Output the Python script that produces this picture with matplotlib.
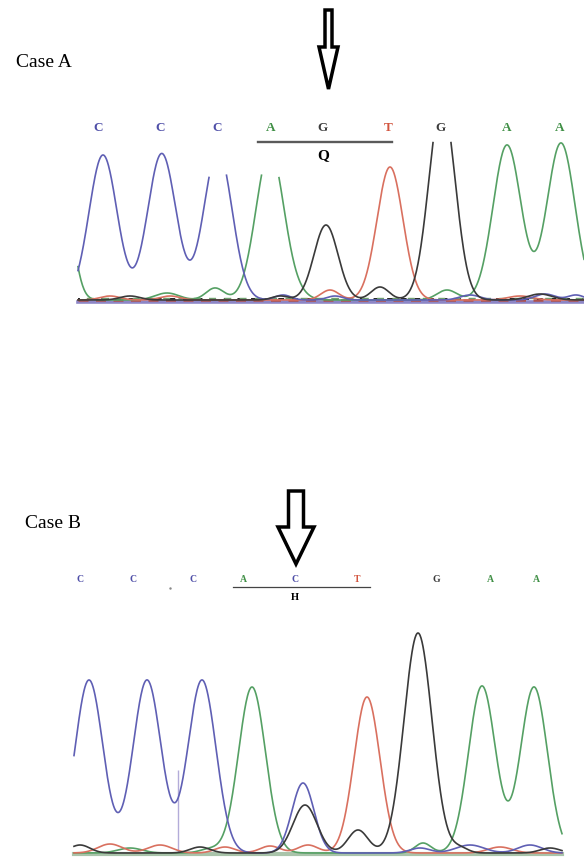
import numpy as np
import matplotlib
matplotlib.use("Agg")
import matplotlib.pyplot as plt
from matplotlib.patches import Polygon

W, H = 584, 857
BLUE, GREEN, RED, BLACK = "#5f5fb4", "#55a064", "#d9705f", "#3a3a3a"
LETTER_COL = {"C": "#4f4fa8", "A": "#3f8f45", "G": "#3c3c3c", "T": "#d2553f"}
SERIF = "Liberation Serif"

# ---- Case A: peak tables (scan position, height, width) per dye channel
A_BLUE_POS = [103, 162, 218, 150, 283, 335, 470, 545, 576]
A_BLUE_H   = [145, 145, 150, 3, 5, 4, 5, 6, 5]
A_BLUE_W   = [14, 14, 14, 10, 8, 8, 10, 10, 8]
A_GREEN_POS = [62, 167, 215, 270, 447, 507, 561, 300]
A_GREEN_H   = [120, 7, 12, 150, 10, 155, 157, 3]
A_GREEN_W   = [10, 12, 9, 14, 10, 14, 14, 10]
A_BLACK_POS = [130, 280, 326, 380, 442, 540]
A_BLACK_H   = [4, 4, 75, 13, 200, 6]
A_BLACK_W   = [10, 8, 12, 9, 13, 12]
A_RED_POS = [110, 170, 330, 390, 520]
A_RED_H   = [4, 4, 10, 133, 4]
A_RED_W   = [10, 10, 9, 13, 12]
A_RANGE = (78, 584)
# parts of the trace that are blanked out in the figure: (x0, x1, max value shown)
A_CLIP = [(200, 290, 125), (425, 460, 160)]
A_BASES = list("CCCAGTGAA")
A_BASE_X = [98, 160, 217, 271, 323, 388, 440, 507, 560]

# ---- Case B
B_BLUE_POS = [89, 147, 202, 303, 420, 470, 530]
B_BLUE_H   = [173, 173, 173, 70, 5, 8, 8]
B_BLUE_W   = [14, 14, 14, 11, 10, 14, 12]
B_GREEN_POS = [130, 210, 252, 423, 482, 534]
B_GREEN_H   = [5, 4, 166, 10, 167, 166]
B_GREEN_W   = [12, 10, 13.5, 8, 13.5, 13.5]
B_BLACK_POS = [80, 200, 305, 358, 418, 460, 550]
B_BLACK_H   = [8, 6, 48, 23, 220, 5, 5]
B_BLACK_W   = [10, 10, 12, 10, 14, 8, 10]
B_RED_POS = [110, 160, 225, 270, 308, 367, 500]
B_RED_H   = [9, 8, 6, 7, 8, 156, 6]
B_RED_W   = [12, 12, 10, 10, 10, 13, 12]
B_RANGE = (74, 562)
B_MARK_X, B_MARK_TOP = 178, 83
B_BASES = list("CCCACTGAA")
B_BASE_X = [80, 133, 193, 243, 295, 357, 436, 490, 536]


def trace(x, pos, h, w):
    y = np.zeros_like(x)
    for p, a, s in zip(pos, h, w):
        y += a * np.exp(-(x - p) ** 2 / (2 * s ** 2))
    return y


def clip(x, y, regions):
    y = y.copy()
    for x0, x1, lev in regions:
        y[(x >= x0) & (x <= x1) & (y > lev)] = np.nan
    return y


def arrow(ax, cx, top, neck, tip, sw, hw):
    pts = [(cx - sw / 2, top), (cx + sw / 2, top), (cx + sw / 2, neck),
           (cx + hw / 2, neck), (cx, tip), (cx - hw / 2, neck), (cx - sw / 2, neck)]
    ax.add_patch(Polygon(pts, closed=True, facecolor="white", edgecolor="black",
                         lw=2.5, joinstyle="miter"))


fig = plt.figure(figsize=(W / 100, H / 100), dpi=100)
ov = fig.add_axes([0, 0, 1, 1])
ov.set_xlim(0, W); ov.set_ylim(H, 0); ov.axis("off")

# Case A traces
axA = fig.add_axes([0, (H - 306) / H, 1, 206 / H])
axA.set_xlim(0, W); axA.set_ylim(-6, 200); axA.axis("off")
xa = np.arange(A_RANGE[0], A_RANGE[1] + 0.5, 0.5)
axA.plot(xa, np.full_like(xa, -1.5), color="#8d86c6", lw=2.6)
axA.plot(xa, np.full_like(xa, 0.5), color="#b0504a", lw=1.8, ls=(0, (4, 3)))
axA.plot(xa, np.full_like(xa, 1.5), color="#222222", lw=1.4, ls=(2, (3, 4)))
axA.plot(xa, np.full_like(xa, 2.5), color="#6f9f6f", lw=1.0, ls=(5, (5, 6)))
for pos, h, w, col in [(A_GREEN_POS, A_GREEN_H, A_GREEN_W, GREEN),
                       (A_RED_POS, A_RED_H, A_RED_W, RED),
                       (A_BLUE_POS, A_BLUE_H, A_BLUE_W, BLUE),
                       (A_BLACK_POS, A_BLACK_H, A_BLACK_W, BLACK)]:
    axA.plot(xa, clip(xa, trace(xa, pos, h, w), A_CLIP), color=col, lw=1.2)

# Case B traces
axB = fig.add_axes([0, 0, 1, 257 / H])
axB.set_xlim(0, W); axB.set_ylim(-4, 253); axB.axis("off")
xb = np.arange(B_RANGE[0], B_RANGE[1] + 0.5, 0.5)
axB.plot(xb, np.full_like(xb, -1.2), color="#a9c4aa", lw=3)
axB.vlines(B_MARK_X, 0, B_MARK_TOP, color="#b3acd9", lw=1)
for pos, h, w, col in [(B_GREEN_POS, B_GREEN_H, B_GREEN_W, GREEN),
                       (B_RED_POS, B_RED_H, B_RED_W, RED),
                       (B_BLUE_POS, B_BLUE_H, B_BLUE_W, BLUE),
                       (B_BLACK_POS, B_BLACK_H, B_BLACK_W, BLACK)]:
    axB.plot(xb, trace(xb, pos, h, w), color=col, lw=1.2)

# labels, base calls and arrows
ov.text(16, 62, "Case A", fontsize=14, family=SERIF, va="center", ha="left")
ov.text(25, 523, "Case B", fontsize=14, family=SERIF, va="center", ha="left")
for b, x in zip(A_BASES, A_BASE_X):
    ov.text(x, 128, b, fontsize=9.5, family=SERIF, weight="bold",
            color=LETTER_COL[b], ha="center", va="center")
ov.plot([258, 392], [142, 142], color="#5a5a5a", lw=1.7)
ov.text(323, 156, "Q", fontsize=11, family=SERIF, weight="bold", ha="center", va="center")
for b, x in zip(B_BASES, B_BASE_X):
    ov.text(x, 580, b, fontsize=7, family=SERIF, weight="bold",
            color=LETTER_COL[b], ha="center", va="center")
ov.plot([233, 370], [587, 587], color="#444444", lw=0.9)
ov.text(295, 597, "H", fontsize=7.5, family=SERIF, weight="bold", ha="center", va="center")
ov.plot([170], [588], marker=".", ms=1.5, color="#888888")

arrow(ov, 328.5, 10, 47, 89, 7, 19)
arrow(ov, 296, 491, 527, 564, 15, 36)

fig.savefig("out.png", dpi=100)
